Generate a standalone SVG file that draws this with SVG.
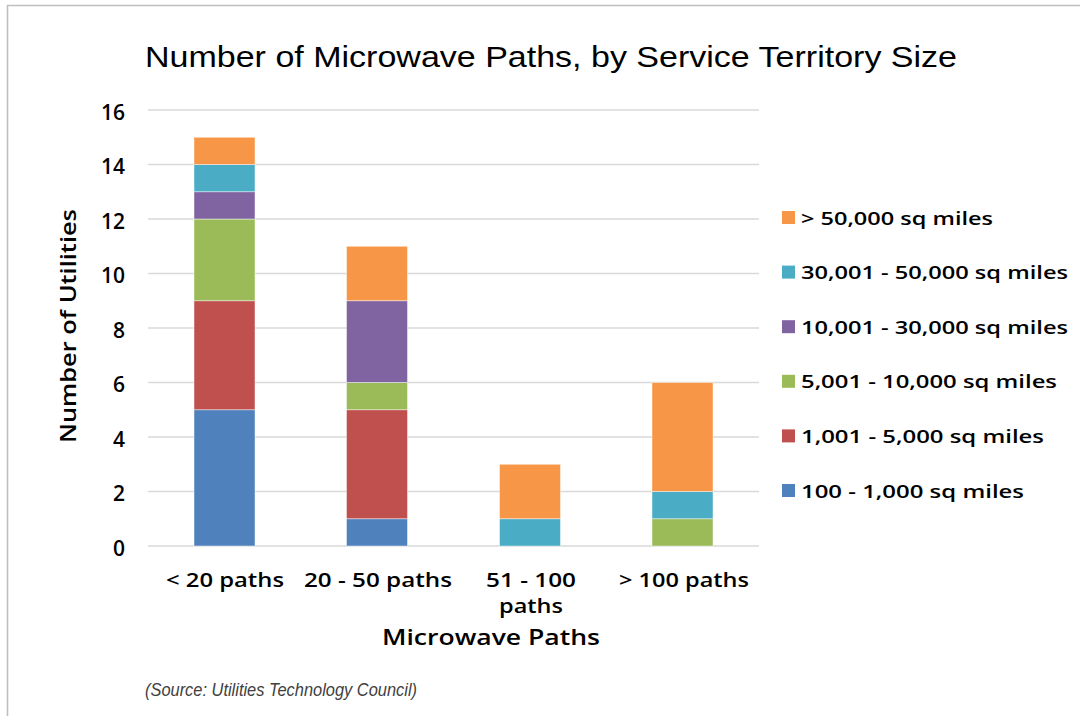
<svg xmlns="http://www.w3.org/2000/svg" width="1080" height="716" viewBox="0 0 1080 716">
<style>
.grid{stroke:#D9D9D9;stroke-width:1.5;fill:none}
.tick{font-family:"Open Sans","Liberation Sans",sans-serif;font-weight:600;font-size:21px;fill:#000;text-anchor:end}
.cat{font-family:"Open Sans","Liberation Sans",sans-serif;font-weight:600;font-size:19px;fill:#000;text-anchor:middle}
.leg{font-family:"Open Sans","Liberation Sans",sans-serif;font-weight:600;font-size:18.5px;fill:#000}
.seg{stroke:#fff;stroke-opacity:0.6;stroke-width:0.75}
.c1{fill:#4F81BD}.c2{fill:#C0504D}.c3{fill:#9BBB59}.c4{fill:#8064A2}.c5{fill:#4BACC6}.c6{fill:#F79646}
</style>
<rect x="0" y="0" width="1080" height="716" fill="#fff"/>
<path d="M7.5,716 V5.5 H1080" fill="none" stroke="#BFBFBF" stroke-width="1.6"/>
<text id="title" x="145" y="67" font-family="'Liberation Sans',Arial,sans-serif" font-size="30" textLength="812" lengthAdjust="spacingAndGlyphs" fill="#000">Number of Microwave Paths, by Service Territory Size</text>
<g id="gridlines">
<line class="grid" x1="148" y1="546" x2="759" y2="546"/>
<line class="grid" x1="148" y1="491.5" x2="759" y2="491.5"/>
<line class="grid" x1="148" y1="437" x2="759" y2="437"/>
<line class="grid" x1="148" y1="382.5" x2="759" y2="382.5"/>
<line class="grid" x1="148" y1="328" x2="759" y2="328"/>
<line class="grid" x1="148" y1="273.5" x2="759" y2="273.5"/>
<line class="grid" x1="148" y1="219" x2="759" y2="219"/>
<line class="grid" x1="148" y1="164.5" x2="759" y2="164.5"/>
<line class="grid" x1="148" y1="110" x2="759" y2="110"/>
</g>
<g id="yticks">
<text class="tick" x="125" y="555.5">0</text>
<text class="tick" x="125" y="501">2</text>
<text class="tick" x="125" y="446.5">4</text>
<text class="tick" x="125" y="392">6</text>
<text class="tick" x="125" y="337.5">8</text>
<text class="tick" x="125" y="283">10</text>
<text class="tick" x="125" y="228.5">12</text>
<text class="tick" x="125" y="174">14</text>
<text class="tick" x="125" y="119.5">16</text>
</g>
<text id="ytitle" transform="translate(76,326) rotate(-90)" text-anchor="middle" font-family="'Open Sans','Liberation Sans',sans-serif" font-weight="600" font-size="22" textLength="234" lengthAdjust="spacingAndGlyphs" fill="#000">Number of Utilities</text>
<g id="bar-lt20">
<rect class="seg c1" x="194" y="409.75" width="61" height="136.25"/>
<rect class="seg c2" x="194" y="300.75" width="61" height="109"/>
<rect class="seg c3" x="194" y="219" width="61" height="81.75"/>
<rect class="seg c4" x="194" y="191.75" width="61" height="27.25"/>
<rect class="seg c5" x="194" y="164.5" width="61" height="27.25"/>
<rect class="seg c6" x="194" y="137.25" width="61" height="27.25"/>
</g>
<g id="bar-20-50">
<rect class="seg c1" x="346.5" y="518.75" width="61" height="27.25"/>
<rect class="seg c2" x="346.5" y="409.75" width="61" height="109"/>
<rect class="seg c3" x="346.5" y="382.5" width="61" height="27.25"/>
<rect class="seg c4" x="346.5" y="300.75" width="61" height="81.75"/>
<rect class="seg c6" x="346.5" y="246.25" width="61" height="54.5"/>
</g>
<g id="bar-51-100">
<rect class="seg c5" x="499.5" y="518.75" width="61" height="27.25"/>
<rect class="seg c6" x="499.5" y="464.25" width="61" height="54.5"/>
</g>
<g id="bar-gt100">
<rect class="seg c3" x="652" y="518.75" width="61" height="27.25"/>
<rect class="seg c5" x="652" y="491.5" width="61" height="27.25"/>
<rect class="seg c6" x="652" y="382.5" width="61" height="109"/>
</g>
<g id="xlabels">
<text class="cat" x="225" y="587" textLength="118" lengthAdjust="spacingAndGlyphs">&lt; 20 paths</text>
<text class="cat" x="378" y="587" textLength="148" lengthAdjust="spacingAndGlyphs">20 - 50 paths</text>
<text class="cat" x="531" y="587" textLength="90" lengthAdjust="spacingAndGlyphs">51 - 100</text>
<text class="cat" x="531" y="613" textLength="64" lengthAdjust="spacingAndGlyphs">paths</text>
<text class="cat" x="684" y="587" textLength="130" lengthAdjust="spacingAndGlyphs">&gt; 100 paths</text>
</g>
<text id="xtitle" x="491" y="645" text-anchor="middle" font-family="'Open Sans','Liberation Sans',sans-serif" font-weight="600" font-size="21" textLength="218" lengthAdjust="spacingAndGlyphs" fill="#000">Microwave Paths</text>
<g id="legend">
<rect class="c6" x="782" y="211" width="13" height="13"/>
<text class="leg" x="801" y="224.5" textLength="192" lengthAdjust="spacingAndGlyphs">&gt; 50,000 sq miles</text>
<rect class="c5" x="782" y="265.6" width="13" height="13"/>
<text class="leg" x="801" y="279.1" textLength="267" lengthAdjust="spacingAndGlyphs">30,001 - 50,000 sq miles</text>
<rect class="c4" x="782" y="320.2" width="13" height="13"/>
<text class="leg" x="801" y="333.7" textLength="267" lengthAdjust="spacingAndGlyphs">10,001 - 30,000 sq miles</text>
<rect class="c3" x="782" y="374.8" width="13" height="13"/>
<text class="leg" x="801" y="388.3" textLength="256" lengthAdjust="spacingAndGlyphs">5,001 - 10,000 sq miles</text>
<rect class="c2" x="782" y="429.4" width="13" height="13"/>
<text class="leg" x="801" y="442.9" textLength="243" lengthAdjust="spacingAndGlyphs">1,001 - 5,000 sq miles</text>
<rect class="c1" x="782" y="484" width="13" height="13"/>
<text class="leg" x="801" y="497.5" textLength="223" lengthAdjust="spacingAndGlyphs">100 - 1,000 sq miles</text>
</g>
<text id="source" x="145" y="696" font-family="'Liberation Sans',Arial,sans-serif" font-style="italic" font-size="18" textLength="272" lengthAdjust="spacingAndGlyphs" fill="#404040">(Source: Utilities Technology Council)</text>
</svg>
